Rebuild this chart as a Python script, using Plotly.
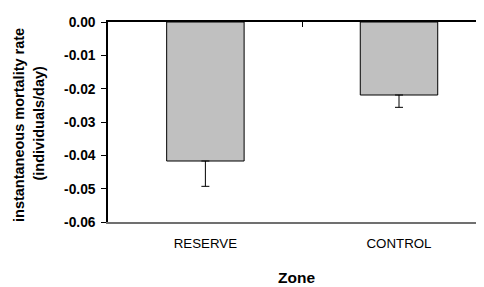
import plotly.graph_objects as go

categories = ["RESERVE", "CONTROL"]
rates = [-0.0417, -0.0219]
se = [0.0076, 0.0037]
yticks = [0.0, -0.01, -0.02, -0.03, -0.04, -0.05, -0.06]
yticklabels = ["0.00", "-0.01", "-0.02", "-0.03", "-0.04", "-0.05", "-0.06"]

fig = go.Figure()
fig.add_trace(go.Bar(
    x=categories, y=rates, width=0.4,
    marker=dict(color="#c0c0c0", line=dict(color="black", width=1)),
    error_y=dict(type="data", symmetric=False, array=[0, 0], arrayminus=se,
                 color="black", thickness=1, width=4),
))
# invisible trace to create top axis
fig.add_trace(go.Scatter(x=[0.5], y=[0], xaxis="x2", mode="markers",
                         marker=dict(opacity=0), showlegend=False, hoverinfo="skip"))

fig.update_layout(
    width=476, height=279,
    margin=dict(l=100, r=0, t=14, b=65),
    paper_bgcolor="white", plot_bgcolor="white",
    showlegend=False,
    font=dict(family="Arial, Liberation Sans, sans-serif", size=13.5, color="black"),
    xaxis=dict(
        type="category", range=[-0.503, 1.439],
        showline=True, linecolor="#707070", linewidth=1.5,
        ticks="", showgrid=False, zeroline=False,
        tickfont=dict(size=13.3, color="black"),
        ticklabelstandoff=8,
    ),
    xaxis2=dict(
        overlaying="x", side="top", range=[-0.503, 1.439],
        showline=True, linecolor="black", linewidth=1.5,
        ticks="inside", ticklen=5, tickcolor="black", tickwidth=1,
        tickvals=[0.5], showticklabels=False, showgrid=False, zeroline=False,
    ),
    yaxis=dict(
        range=[-0.06, 0], tickvals=yticks, ticktext=yticklabels,
        showline=True, linecolor="black", linewidth=1.5,
        ticks="outside", ticklen=5, tickcolor="black", tickwidth=1,
        showgrid=False, zeroline=False, ticklabelstandoff=3,
        tickfont=dict(size=13.8, color="black", weight="bold"),
    ),
    annotations=[
        dict(text="<b>instantaneous mortality rate</b>", xref="paper", yref="paper",
             x=0, y=0.5, xshift=-89, yshift=-3, showarrow=False, textangle=-90,
             xanchor="center", yanchor="middle", font=dict(size=14.5)),
        dict(text="<b>(individuals/day)</b>", xref="paper", yref="paper",
             x=0, y=0.5, xshift=-69.5, yshift=-1, showarrow=False, textangle=-90,
             xanchor="center", yanchor="middle", font=dict(size=14.5)),
        dict(text="<b>Zone</b>", xref="paper", yref="paper",
             x=0.5, y=0, yshift=-55, showarrow=False,
             xanchor="center", yanchor="middle", font=dict(size=15.5)),
    ],
)

fig.write_html("out.html")
